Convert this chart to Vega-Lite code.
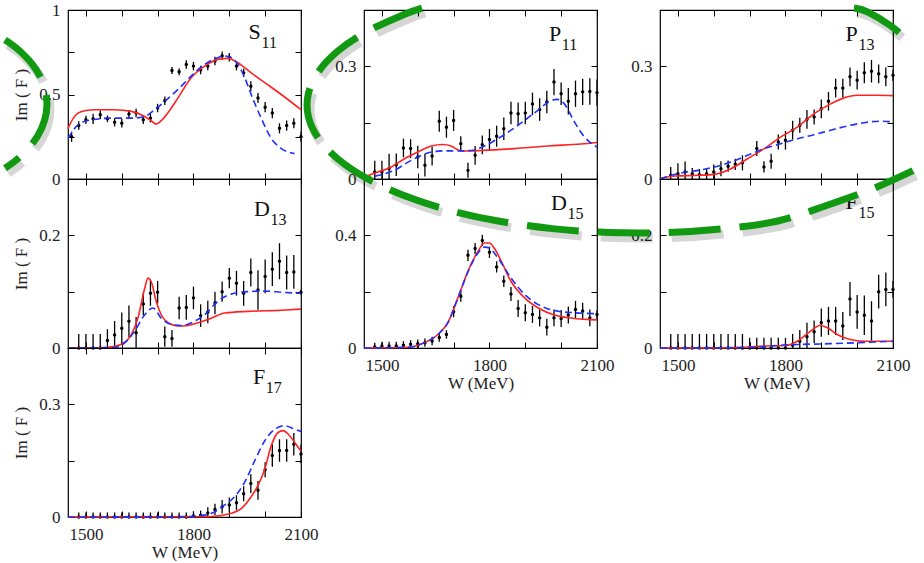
{
"$schema":"https://vega.github.io/schema/vega-lite/v6.json",
"padding":0,
"background":"white",
"bounds":"flush",
"columns":3,
"spacing":{"row":0,"column":63},
"config":{
 "view":{"stroke":"black","strokeWidth":1.2},
 "axis":{"domain":false,"grid":false,"tickColor":"black","tickSize":-6,"tickWidth":1,"labelFont":"Liberation Serif","labelFontSize":17,"labelColor":"#222","titleFont":"Liberation Serif","titleFontSize":17,"titleFontWeight":"normal","titleColor":"#222","labelFlush":false,"labelOverlap":false},
 "axisX":{"labelPadding":15,"titlePadding":2},
 "axisY":{"labelPadding":14,"titlePadding":8}
},
"datasets":{
"lab":[{"p":"S11","m":"S","s":"11"},{"p":"D13","m":"D","s":"13"},{"p":"F17","m":"F","s":"17"},{"p":"P11","m":"P","s":"11"},{"p":"D15","m":"D","s":"15"},{"p":"P13","m":"P","s":"13"},{"p":"F15","m":"F","s":"15"}],
"pts":[
{"p":"S11","W":1460,"v":0.25,"e":0.03},{"p":"S11","W":1480,"v":0.316,"e":0.025},{"p":"S11","W":1500,"v":0.35,"e":0.025},{"p":"S11","W":1520,"v":0.356,"e":0.03},{"p":"S11","W":1540,"v":0.38,"e":0.025},{"p":"S11","W":1560,"v":0.356,"e":0.02},{"p":"S11","W":1580,"v":0.336,"e":0.025},{"p":"S11","W":1600,"v":0.33,"e":0.025},{"p":"S11","W":1620,"v":0.384,"e":0.025},{"p":"S11","W":1640,"v":0.39,"e":0.025},{"p":"S11","W":1660,"v":0.35,"e":0.025},{"p":"S11","W":1680,"v":0.36,"e":0.025},{"p":"S11","W":1700,"v":0.42,"e":0.025},{"p":"S11","W":1720,"v":0.463,"e":0.025},{"p":"S11","W":1740,"v":0.642,"e":0.02},{"p":"S11","W":1760,"v":0.634,"e":0.02},{"p":"S11","W":1780,"v":0.678,"e":0.025},{"p":"S11","W":1800,"v":0.668,"e":0.025},{"p":"S11","W":1820,"v":0.645,"e":0.025},{"p":"S11","W":1840,"v":0.668,"e":0.025},{"p":"S11","W":1860,"v":0.698,"e":0.025},{"p":"S11","W":1880,"v":0.73,"e":0.025},{"p":"S11","W":1900,"v":0.72,"e":0.025},{"p":"S11","W":1920,"v":0.668,"e":0.025},{"p":"S11","W":1940,"v":0.628,"e":0.025},{"p":"S11","W":1960,"v":0.549,"e":0.03},{"p":"S11","W":1980,"v":0.479,"e":0.03},{"p":"S11","W":2000,"v":0.425,"e":0.03},{"p":"S11","W":2020,"v":0.39,"e":0.03},{"p":"S11","W":2040,"v":0.3,"e":0.03},{"p":"S11","W":2060,"v":0.316,"e":0.03},{"p":"S11","W":2080,"v":0.33,"e":0.03},{"p":"S11","W":2100,"v":0.25,"e":0.03},
{"p":"D13","W":1480,"v":0,"e":0.025},{"p":"D13","W":1500,"v":0,"e":0.025},{"p":"D13","W":1520,"v":0,"e":0.025},{"p":"D13","W":1540,"v":0,"e":0.025},{"p":"D13","W":1560,"v":0.0135,"e":0.02},{"p":"D13","W":1580,"v":0.023,"e":0.025},{"p":"D13","W":1600,"v":0.035,"e":0.028},{"p":"D13","W":1620,"v":0.0475,"e":0.028},{"p":"D13","W":1640,"v":0.027,"e":0.028},{"p":"D13","W":1660,"v":0.078,"e":0.02},{"p":"D13","W":1680,"v":0.097,"e":0.022},{"p":"D13","W":1700,"v":0.099,"e":0.02},{"p":"D13","W":1720,"v":0.02,"e":0.018},{"p":"D13","W":1740,"v":0.017,"e":0.015},{"p":"D13","W":1760,"v":0.071,"e":0.02},{"p":"D13","W":1780,"v":0.072,"e":0.022},{"p":"D13","W":1800,"v":0.089,"e":0.02},{"p":"D13","W":1820,"v":0.0575,"e":0.02},{"p":"D13","W":1840,"v":0.064,"e":0.02},{"p":"D13","W":1860,"v":0.08,"e":0.02},{"p":"D13","W":1880,"v":0.1,"e":0.018},{"p":"D13","W":1900,"v":0.124,"e":0.018},{"p":"D13","W":1920,"v":0.115,"e":0.022},{"p":"D13","W":1940,"v":0.097,"e":0.022},{"p":"D13","W":1960,"v":0.134,"e":0.025},{"p":"D13","W":1980,"v":0.103,"e":0.035},{"p":"D13","W":2000,"v":0.127,"e":0.03},{"p":"D13","W":2020,"v":0.14,"e":0.03},{"p":"D13","W":2040,"v":0.154,"e":0.032},{"p":"D13","W":2060,"v":0.134,"e":0.03},{"p":"D13","W":2080,"v":0.135,"e":0.03},{"p":"D13","W":2100,"v":0.099,"e":0.005},
{"p":"F17","W":1480,"v":0,"e":0.012},{"p":"F17","W":1500,"v":0,"e":0.012},{"p":"F17","W":1520,"v":0,"e":0.012},{"p":"F17","W":1540,"v":0,"e":0.012},{"p":"F17","W":1560,"v":0,"e":0.012},{"p":"F17","W":1580,"v":0,"e":0.012},{"p":"F17","W":1600,"v":0,"e":0.012},{"p":"F17","W":1620,"v":0,"e":0.012},{"p":"F17","W":1640,"v":0,"e":0.012},{"p":"F17","W":1660,"v":0,"e":0.012},{"p":"F17","W":1680,"v":0,"e":0.012},{"p":"F17","W":1700,"v":0,"e":0.012},{"p":"F17","W":1720,"v":0,"e":0.012},{"p":"F17","W":1740,"v":0,"e":0.012},{"p":"F17","W":1760,"v":0,"e":0.012},{"p":"F17","W":1780,"v":0,"e":0.012},{"p":"F17","W":1800,"v":0.003,"e":0.012},{"p":"F17","W":1820,"v":0.005,"e":0.012},{"p":"F17","W":1840,"v":0.011,"e":0.015},{"p":"F17","W":1860,"v":0.02,"e":0.015},{"p":"F17","W":1880,"v":0.027,"e":0.018},{"p":"F17","W":1900,"v":0.032,"e":0.02},{"p":"F17","W":1920,"v":0.038,"e":0.02},{"p":"F17","W":1940,"v":0.062,"e":0.02},{"p":"F17","W":1960,"v":0.089,"e":0.025},{"p":"F17","W":1980,"v":0.071,"e":0.025},{"p":"F17","W":2000,"v":0.126,"e":0.02},{"p":"F17","W":2020,"v":0.164,"e":0.03},{"p":"F17","W":2040,"v":0.177,"e":0.03},{"p":"F17","W":2060,"v":0.177,"e":0.03},{"p":"F17","W":2080,"v":0.194,"e":0.03},{"p":"F17","W":2100,"v":0.168,"e":0.025},
{"p":"P11","W":1480,"v":0.0186,"e":0.03},{"p":"P11","W":1500,"v":0.0186,"e":0.03},{"p":"P11","W":1520,"v":0.0275,"e":0.04},{"p":"P11","W":1540,"v":0.038,"e":0.03},{"p":"P11","W":1560,"v":0.0825,"e":0.025},{"p":"P11","W":1580,"v":0.081,"e":0.025},{"p":"P11","W":1600,"v":0.0586,"e":0.03},{"p":"P11","W":1620,"v":0.0364,"e":0.03},{"p":"P11","W":1640,"v":0.061,"e":0.025},{"p":"P11","W":1660,"v":0.154,"e":0.028},{"p":"P11","W":1680,"v":0.138,"e":0.028},{"p":"P11","W":1700,"v":0.156,"e":0.028},{"p":"P11","W":1720,"v":0.094,"e":0.02},{"p":"P11","W":1740,"v":0.023,"e":0.02},{"p":"P11","W":1760,"v":0.063,"e":0.025},{"p":"P11","W":1780,"v":0.091,"e":0.025},{"p":"P11","W":1800,"v":0.105,"e":0.028},{"p":"P11","W":1820,"v":0.114,"e":0.028},{"p":"P11","W":1840,"v":0.134,"e":0.03},{"p":"P11","W":1860,"v":0.176,"e":0.03},{"p":"P11","W":1880,"v":0.174,"e":0.03},{"p":"P11","W":1900,"v":0.176,"e":0.03},{"p":"P11","W":1920,"v":0.2,"e":0.03},{"p":"P11","W":1940,"v":0.185,"e":0.03},{"p":"P11","W":1960,"v":0.205,"e":0.03},{"p":"P11","W":1980,"v":0.258,"e":0.035},{"p":"P11","W":2000,"v":0.227,"e":0.03},{"p":"P11","W":2020,"v":0.207,"e":0.035},{"p":"P11","W":2040,"v":0.227,"e":0.035},{"p":"P11","W":2060,"v":0.232,"e":0.035},{"p":"P11","W":2080,"v":0.233,"e":0.035},{"p":"P11","W":2100,"v":0.23,"e":0.035},
{"p":"D15","W":1480,"v":0.0035,"e":0.015},{"p":"D15","W":1500,"v":0.007,"e":0.015},{"p":"D15","W":1520,"v":0.007,"e":0.015},{"p":"D15","W":1540,"v":0.007,"e":0.015},{"p":"D15","W":1560,"v":0.0094,"e":0.015},{"p":"D15","W":1580,"v":0.013,"e":0.015},{"p":"D15","W":1600,"v":0.015,"e":0.015},{"p":"D15","W":1620,"v":0.019,"e":0.015},{"p":"D15","W":1640,"v":0.025,"e":0.015},{"p":"D15","W":1660,"v":0.037,"e":0.015},{"p":"D15","W":1680,"v":0.048,"e":0.015},{"p":"D15","W":1700,"v":0.129,"e":0.02},{"p":"D15","W":1720,"v":0.184,"e":0.02},{"p":"D15","W":1740,"v":0.329,"e":0.02},{"p":"D15","W":1760,"v":0.353,"e":0.02},{"p":"D15","W":1780,"v":0.382,"e":0.02},{"p":"D15","W":1800,"v":0.34,"e":0.02},{"p":"D15","W":1820,"v":0.288,"e":0.02},{"p":"D15","W":1840,"v":0.237,"e":0.02},{"p":"D15","W":1860,"v":0.192,"e":0.025},{"p":"D15","W":1880,"v":0.14,"e":0.03},{"p":"D15","W":1900,"v":0.125,"e":0.03},{"p":"D15","W":1920,"v":0.119,"e":0.03},{"p":"D15","W":1940,"v":0.107,"e":0.03},{"p":"D15","W":1960,"v":0.074,"e":0.03},{"p":"D15","W":1980,"v":0.107,"e":0.03},{"p":"D15","W":2000,"v":0.105,"e":0.03},{"p":"D15","W":2020,"v":0.117,"e":0.03},{"p":"D15","W":2040,"v":0.137,"e":0.03},{"p":"D15","W":2060,"v":0.131,"e":0.03},{"p":"D15","W":2080,"v":0.107,"e":0.03},{"p":"D15","W":2100,"v":0.119,"e":0.015},
{"p":"P13","W":1480,"v":0.0098,"e":0.022},{"p":"P13","W":1500,"v":0.014,"e":0.028},{"p":"P13","W":1520,"v":0.0186,"e":0.028},{"p":"P13","W":1540,"v":0.014,"e":0.015},{"p":"P13","W":1560,"v":0.0115,"e":0.015},{"p":"P13","W":1580,"v":0.014,"e":0.015},{"p":"P13","W":1600,"v":0.0186,"e":0.02},{"p":"P13","W":1620,"v":0.0275,"e":0.02},{"p":"P13","W":1640,"v":0.034,"e":0.015},{"p":"P13","W":1660,"v":0.039,"e":0.015},{"p":"P13","W":1680,"v":0.043,"e":0.02},{"p":"P13","W":1720,"v":0.081,"e":0.02},{"p":"P13","W":1740,"v":0.032,"e":0.015},{"p":"P13","W":1760,"v":0.047,"e":0.02},{"p":"P13","W":1780,"v":0.0985,"e":0.02},{"p":"P13","W":1800,"v":0.103,"e":0.025},{"p":"P13","W":1820,"v":0.13,"e":0.025},{"p":"P13","W":1840,"v":0.143,"e":0.02},{"p":"P13","W":1860,"v":0.159,"e":0.025},{"p":"P13","W":1880,"v":0.165,"e":0.02},{"p":"P13","W":1900,"v":0.187,"e":0.025},{"p":"P13","W":1920,"v":0.207,"e":0.025},{"p":"P13","W":1940,"v":0.242,"e":0.025},{"p":"P13","W":1960,"v":0.242,"e":0.025},{"p":"P13","W":1980,"v":0.272,"e":0.025},{"p":"P13","W":2000,"v":0.263,"e":0.025},{"p":"P13","W":2020,"v":0.283,"e":0.028},{"p":"P13","W":2040,"v":0.287,"e":0.03},{"p":"P13","W":2060,"v":0.28,"e":0.025},{"p":"P13","W":2080,"v":0.272,"e":0.025},{"p":"P13","W":2100,"v":0.276,"e":0.015},
{"p":"F15","W":1480,"v":0,"e":0.025},{"p":"F15","W":1500,"v":0,"e":0.025},{"p":"F15","W":1520,"v":0,"e":0.025},{"p":"F15","W":1540,"v":0,"e":0.025},{"p":"F15","W":1560,"v":0,"e":0.025},{"p":"F15","W":1580,"v":0,"e":0.025},{"p":"F15","W":1600,"v":0,"e":0.025},{"p":"F15","W":1620,"v":0,"e":0.025},{"p":"F15","W":1640,"v":0,"e":0.025},{"p":"F15","W":1660,"v":0,"e":0.025},{"p":"F15","W":1680,"v":0,"e":0.025},{"p":"F15","W":1700,"v":0,"e":0.018},{"p":"F15","W":1720,"v":0,"e":0.018},{"p":"F15","W":1740,"v":0,"e":0.018},{"p":"F15","W":1760,"v":0,"e":0.018},{"p":"F15","W":1780,"v":0,"e":0.018},{"p":"F15","W":1800,"v":0,"e":0.018},{"p":"F15","W":1820,"v":0.005,"e":0.02},{"p":"F15","W":1840,"v":0.012,"e":0.02},{"p":"F15","W":1860,"v":0.02,"e":0.025},{"p":"F15","W":1880,"v":0.029,"e":0.02},{"p":"F15","W":1900,"v":0.045,"e":0.025},{"p":"F15","W":1920,"v":0.048,"e":0.025},{"p":"F15","W":1940,"v":0.048,"e":0.025},{"p":"F15","W":1960,"v":0.039,"e":0.025},{"p":"F15","W":1980,"v":0.087,"e":0.03},{"p":"F15","W":2000,"v":0.064,"e":0.03},{"p":"F15","W":2020,"v":0.058,"e":0.035},{"p":"F15","W":2040,"v":0.048,"e":0.035},{"p":"F15","W":2060,"v":0.1,"e":0.03},{"p":"F15","W":2080,"v":0.104,"e":0.03},{"p":"F15","W":2100,"v":0.104,"e":0.015}
],
"cur":[
{"p":"S11","s":"A","W":1450,"v":0.30},{"p":"S11","s":"A","W":1465,"v":0.36},{"p":"S11","s":"A","W":1478,"v":0.39},{"p":"S11","s":"A","W":1500,"v":0.405},{"p":"S11","s":"A","W":1524,"v":0.41},{"p":"S11","s":"A","W":1580,"v":0.41},{"p":"S11","s":"A","W":1627,"v":0.40},{"p":"S11","s":"A","W":1664,"v":0.37},{"p":"S11","s":"A","W":1682,"v":0.345},{"p":"S11","s":"A","W":1696,"v":0.325},{"p":"S11","s":"A","W":1710,"v":0.345},{"p":"S11","s":"A","W":1735,"v":0.41},{"p":"S11","s":"A","W":1757,"v":0.48},{"p":"S11","s":"A","W":1794,"v":0.60},{"p":"S11","s":"A","W":1831,"v":0.668},{"p":"S11","s":"A","W":1868,"v":0.708},{"p":"S11","s":"A","W":1896,"v":0.714},{"p":"S11","s":"A","W":1924,"v":0.688},{"p":"S11","s":"A","W":1961,"v":0.628},{"p":"S11","s":"A","W":1999,"v":0.57},{"p":"S11","s":"A","W":2045,"v":0.50},{"p":"S11","s":"A","W":2100,"v":0.41},
{"p":"S11","s":"B","W":1450,"v":0.24},{"p":"S11","s":"B","W":1478,"v":0.32},{"p":"S11","s":"B","W":1515,"v":0.35},{"p":"S11","s":"B","W":1571,"v":0.36},{"p":"S11","s":"B","W":1627,"v":0.36},{"p":"S11","s":"B","W":1664,"v":0.37},{"p":"S11","s":"B","W":1692,"v":0.41},{"p":"S11","s":"B","W":1720,"v":0.46},{"p":"S11","s":"B","W":1757,"v":0.53},{"p":"S11","s":"B","W":1794,"v":0.61},{"p":"S11","s":"B","W":1831,"v":0.678},{"p":"S11","s":"B","W":1868,"v":0.718},{"p":"S11","s":"B","W":1887,"v":0.728},{"p":"S11","s":"B","W":1906,"v":0.718},{"p":"S11","s":"B","W":1924,"v":0.678},{"p":"S11","s":"B","W":1943,"v":0.60},{"p":"S11","s":"B","W":1961,"v":0.50},{"p":"S11","s":"B","W":1989,"v":0.36},{"p":"S11","s":"B","W":2017,"v":0.24},{"p":"S11","s":"B","W":2045,"v":0.18},{"p":"S11","s":"B","W":2082,"v":0.15},
{"p":"D13","s":"A","W":1450,"v":0},{"p":"D13","s":"A","W":1555,"v":0.001},{"p":"D13","s":"A","W":1571,"v":0.002},{"p":"D13","s":"A","W":1599,"v":0.0065},{"p":"D13","s":"A","W":1627,"v":0.024},{"p":"D13","s":"A","W":1645,"v":0.053},{"p":"D13","s":"A","W":1664,"v":0.106},{"p":"D13","s":"A","W":1673,"v":0.124},{"p":"D13","s":"A","W":1682,"v":0.118},{"p":"D13","s":"A","W":1696,"v":0.083},{"p":"D13","s":"A","W":1710,"v":0.059},{"p":"D13","s":"A","W":1729,"v":0.045},{"p":"D13","s":"A","W":1757,"v":0.039},{"p":"D13","s":"A","W":1785,"v":0.04},{"p":"D13","s":"A","W":1813,"v":0.045},{"p":"D13","s":"A","W":1850,"v":0.053},{"p":"D13","s":"A","W":1887,"v":0.062},{"p":"D13","s":"A","W":1952,"v":0.065},{"p":"D13","s":"A","W":2045,"v":0.067},{"p":"D13","s":"A","W":2100,"v":0.069},
{"p":"D13","s":"B","W":1450,"v":0},{"p":"D13","s":"B","W":1580,"v":0.001},{"p":"D13","s":"B","W":1608,"v":0.009},{"p":"D13","s":"B","W":1636,"v":0.03},{"p":"D13","s":"B","W":1664,"v":0.059},{"p":"D13","s":"B","W":1687,"v":0.071},{"p":"D13","s":"B","W":1710,"v":0.053},{"p":"D13","s":"B","W":1738,"v":0.042},{"p":"D13","s":"B","W":1766,"v":0.04},{"p":"D13","s":"B","W":1803,"v":0.0475},{"p":"D13","s":"B","W":1831,"v":0.059},{"p":"D13","s":"B","W":1868,"v":0.083},{"p":"D13","s":"B","W":1906,"v":0.096},{"p":"D13","s":"B","W":1952,"v":0.1},{"p":"D13","s":"B","W":1999,"v":0.101},{"p":"D13","s":"B","W":2045,"v":0.099},{"p":"D13","s":"B","W":2100,"v":0.097},
{"p":"F17","s":"A","W":1450,"v":0},{"p":"F17","s":"A","W":1830,"v":0.0005},{"p":"F17","s":"A","W":1859,"v":0.002},{"p":"F17","s":"A","W":1906,"v":0.0097},{"p":"F17","s":"A","W":1934,"v":0.023},{"p":"F17","s":"A","W":1961,"v":0.054},{"p":"F17","s":"A","W":1980,"v":0.084},{"p":"F17","s":"A","W":1999,"v":0.128},{"p":"F17","s":"A","W":2017,"v":0.19},{"p":"F17","s":"A","W":2036,"v":0.225},{"p":"F17","s":"A","W":2050,"v":0.23},{"p":"F17","s":"A","W":2064,"v":0.221},{"p":"F17","s":"A","W":2082,"v":0.199},{"p":"F17","s":"A","W":2100,"v":0.175},
{"p":"F17","s":"B","W":1450,"v":0},{"p":"F17","s":"B","W":1790,"v":0.001},{"p":"F17","s":"B","W":1813,"v":0.003},{"p":"F17","s":"B","W":1850,"v":0.0097},{"p":"F17","s":"B","W":1887,"v":0.032},{"p":"F17","s":"B","W":1915,"v":0.054},{"p":"F17","s":"B","W":1943,"v":0.093},{"p":"F17","s":"B","W":1971,"v":0.15},{"p":"F17","s":"B","W":1999,"v":0.203},{"p":"F17","s":"B","W":2027,"v":0.234},{"p":"F17","s":"B","W":2055,"v":0.243},{"p":"F17","s":"B","W":2082,"v":0.234},{"p":"F17","s":"B","W":2100,"v":0.228},
{"p":"P11","s":"A","W":1450,"v":0.0053},{"p":"P11","s":"A","W":1489,"v":0.0186},{"p":"P11","s":"A","W":1526,"v":0.032},{"p":"P11","s":"A","W":1563,"v":0.054},{"p":"P11","s":"A","W":1600,"v":0.072},{"p":"P11","s":"A","W":1638,"v":0.088},{"p":"P11","s":"A","W":1670,"v":0.092},{"p":"P11","s":"A","W":1693,"v":0.088},{"p":"P11","s":"A","W":1716,"v":0.076},{"p":"P11","s":"A","W":1730,"v":0.0746},{"p":"P11","s":"A","W":1777,"v":0.076},{"p":"P11","s":"A","W":1870,"v":0.081},{"p":"P11","s":"A","W":1962,"v":0.088},{"p":"P11","s":"A","W":2055,"v":0.093},{"p":"P11","s":"A","W":2100,"v":0.097},
{"p":"P11","s":"B","W":1450,"v":0.0027},{"p":"P11","s":"B","W":1498,"v":0.0115},{"p":"P11","s":"B","W":1535,"v":0.023},{"p":"P11","s":"B","W":1573,"v":0.045},{"p":"P11","s":"B","W":1600,"v":0.0586},{"p":"P11","s":"B","W":1638,"v":0.072},{"p":"P11","s":"B","W":1675,"v":0.075},{"p":"P11","s":"B","W":1712,"v":0.0746},{"p":"P11","s":"B","W":1749,"v":0.076},{"p":"P11","s":"B","W":1786,"v":0.088},{"p":"P11","s":"B","W":1823,"v":0.107},{"p":"P11","s":"B","W":1860,"v":0.13},{"p":"P11","s":"B","W":1898,"v":0.156},{"p":"P11","s":"B","W":1935,"v":0.183},{"p":"P11","s":"B","W":1972,"v":0.209},{"p":"P11","s":"B","W":1990,"v":0.212},{"p":"P11","s":"B","W":2009,"v":0.2},{"p":"P11","s":"B","W":2037,"v":0.152},{"p":"P11","s":"B","W":2065,"v":0.112},{"p":"P11","s":"B","W":2100,"v":0.085},
{"p":"D15","s":"A","W":1450,"v":0},{"p":"D15","s":"A","W":1573,"v":0.0024},{"p":"D15","s":"A","W":1619,"v":0.019},{"p":"D15","s":"A","W":1656,"v":0.048},{"p":"D15","s":"A","W":1684,"v":0.09},{"p":"D15","s":"A","W":1712,"v":0.178},{"p":"D15","s":"A","W":1740,"v":0.273},{"p":"D15","s":"A","W":1768,"v":0.343},{"p":"D15","s":"A","W":1786,"v":0.373},{"p":"D15","s":"A","W":1800,"v":0.373},{"p":"D15","s":"A","W":1814,"v":0.353},{"p":"D15","s":"A","W":1833,"v":0.308},{"p":"D15","s":"A","W":1860,"v":0.237},{"p":"D15","s":"A","W":1898,"v":0.178},{"p":"D15","s":"A","W":1935,"v":0.143},{"p":"D15","s":"A","W":1981,"v":0.117},{"p":"D15","s":"A","W":2037,"v":0.105},{"p":"D15","s":"A","W":2100,"v":0.1},
{"p":"D15","s":"B","W":1450,"v":0},{"p":"D15","s":"B","W":1573,"v":0.0024},{"p":"D15","s":"B","W":1619,"v":0.019},{"p":"D15","s":"B","W":1656,"v":0.048},{"p":"D15","s":"B","W":1684,"v":0.09},{"p":"D15","s":"B","W":1712,"v":0.178},{"p":"D15","s":"B","W":1740,"v":0.27},{"p":"D15","s":"B","W":1768,"v":0.337},{"p":"D15","s":"B","W":1786,"v":0.358},{"p":"D15","s":"B","W":1800,"v":0.355},{"p":"D15","s":"B","W":1820,"v":0.326},{"p":"D15","s":"B","W":1860,"v":0.249},{"p":"D15","s":"B","W":1898,"v":0.19},{"p":"D15","s":"B","W":1935,"v":0.155},{"p":"D15","s":"B","W":1981,"v":0.133},{"p":"D15","s":"B","W":2037,"v":0.125},{"p":"D15","s":"B","W":2100,"v":0.122},
{"p":"P13","s":"A","W":1450,"v":0.0009},{"p":"P13","s":"A","W":1491,"v":0.008},{"p":"P13","s":"A","W":1556,"v":0.0098},{"p":"P13","s":"A","W":1602,"v":0.0124},{"p":"P13","s":"A","W":1648,"v":0.0275},{"p":"P13","s":"A","W":1694,"v":0.054},{"p":"P13","s":"A","W":1741,"v":0.081},{"p":"P13","s":"A","W":1787,"v":0.112},{"p":"P13","s":"A","W":1833,"v":0.138},{"p":"P13","s":"A","W":1880,"v":0.174},{"p":"P13","s":"A","W":1926,"v":0.2},{"p":"P13","s":"A","W":1963,"v":0.216},{"p":"P13","s":"A","W":2000,"v":0.223},{"p":"P13","s":"A","W":2056,"v":0.223},{"p":"P13","s":"A","W":2100,"v":0.222},
{"p":"P13","s":"B","W":1450,"v":0.0009},{"p":"P13","s":"B","W":1509,"v":0.016},{"p":"P13","s":"B","W":1556,"v":0.023},{"p":"P13","s":"B","W":1602,"v":0.032},{"p":"P13","s":"B","W":1648,"v":0.045},{"p":"P13","s":"B","W":1694,"v":0.063},{"p":"P13","s":"B","W":1741,"v":0.081},{"p":"P13","s":"B","W":1787,"v":0.094},{"p":"P13","s":"B","W":1833,"v":0.107},{"p":"P13","s":"B","W":1880,"v":0.118},{"p":"P13","s":"B","W":1926,"v":0.13},{"p":"P13","s":"B","W":1972,"v":0.141},{"p":"P13","s":"B","W":2019,"v":0.15},{"p":"P13","s":"B","W":2065,"v":0.154},{"p":"P13","s":"B","W":2100,"v":0.152},
{"p":"F15","s":"A","W":1450,"v":0},{"p":"F15","s":"A","W":1648,"v":0.0005},{"p":"F15","s":"A","W":1741,"v":0.0035},{"p":"F15","s":"A","W":1806,"v":0.005},{"p":"F15","s":"A","W":1833,"v":0.012},{"p":"F15","s":"A","W":1870,"v":0.03},{"p":"F15","s":"A","W":1896,"v":0.04},{"p":"F15","s":"A","W":1917,"v":0.036},{"p":"F15","s":"A","W":1944,"v":0.024},{"p":"F15","s":"A","W":1981,"v":0.015},{"p":"F15","s":"A","W":2019,"v":0.012},{"p":"F15","s":"A","W":2100,"v":0.012},
{"p":"F15","s":"B","W":1450,"v":0},{"p":"F15","s":"B","W":1700,"v":0.001},{"p":"F15","s":"B","W":1796,"v":0.0053},{"p":"F15","s":"B","W":1926,"v":0.0077},{"p":"F15","s":"B","W":2100,"v":0.012}
],
"ell":[
{"g":"a","i":1,"ex":786,"ey":0.6035},{"g":"a","i":2,"ex":735.8,"ey":0.592},{"g":"a","i":3,"ex":632.1,"ey":0.5617},{"g":"a","i":4,"ex":551.7,"ey":0.5274},{"g":"a","i":5,"ex":496.8,"ey":0.4901},{"g":"a","i":6,"ex":468.9,"ey":0.4512},{"g":"a","i":7,"ex":468.9,"ey":0.4115},{"g":"a","i":8,"ex":496.8,"ey":0.3726},{"g":"a","i":9,"ex":551.7,"ey":0.3353},{"g":"a","i":10,"ex":632.1,"ey":0.3011},{"g":"a","i":11,"ex":735.8,"ey":0.2707},{"g":"a","i":12,"ex":858.9,"ey":0.2451},{"g":"a","i":13,"ex":998.3,"ey":0.2254},{"g":"a","i":14,"ex":1149.5,"ey":0.2119},{"g":"a","i":15,"ex":1308,"ey":0.205},{"g":"a","i":16,"ex":1469.2,"ey":0.205},{"g":"a","i":17,"ex":1627.7,"ey":0.2119},{"g":"a","i":18,"ex":1778.9,"ey":0.2254},{"g":"a","i":19,"ex":1918.4,"ey":0.2538},{"g":"a","i":20,"ex":2041.4,"ey":0.2822},{"g":"a","i":21,"ex":2155.8,"ey":0.3149},
{"g":"b","i":1,"ex":1991.2,"ey":0.6035},{"g":"b","i":2,"ex":2030.3,"ey":0.5964},{"g":"b","i":3,"ex":2094.4,"ey":0.5716},{"g":"b","i":4,"ex":2155.8,"ey":0.5379},
{"g":"c","i":1,"ex":-377.3,"ey":0.5471},{"g":"c","i":2,"ex":-340.7,"ey":0.5299},{"g":"c","i":3,"ex":-301.9,"ey":0.5043},{"g":"c","i":4,"ex":-275.4,"ey":0.4768},{"g":"c","i":5,"ex":-261.8,"ey":0.4479},{"g":"c","i":6,"ex":-261.8,"ey":0.4184},{"g":"c","i":7,"ex":-275.4,"ey":0.3895},{"g":"c","i":8,"ex":-301.9,"ey":0.3619},{"g":"c","i":9,"ex":-340.7,"ey":0.3364},{"g":"c","i":10,"ex":-377.3,"ey":0.3192}
]
},
"concat":[
 {"width":233,"height":169,"resolve":{"axis":{"x":"independent","y":"independent"}},"layer":[
  {"data":{"name":"pts"},"transform":[{"filter":"datum.p=='S11'"}],"mark":{"type":"errorbar","ticks":false,"clip":true,"color":"black","thickness":1.3},"encoding":{"x":{"field":"W","type":"quantitative","scale":{"domain":[1450,2100],"nice":false,"zero":false},"axis":null},"y":{"field":"v","type":"quantitative","scale":{"domain":[0,1],"nice":false},"axis":null},"yError":{"field":"e"}}},
  {"data":{"name":"pts"},"transform":[{"filter":"datum.p=='S11'"}],"mark":{"type":"point","filled":true,"size":12,"color":"black","opacity":1},"encoding":{"x":{"field":"W","type":"quantitative","scale":{"domain":[1450,2100],"nice":false,"zero":false},"axis":{"orient":"bottom","values":[1500,1600,1700,1800,1900,2000,2100],"labels":false,"title":null}},"y":{"field":"v","type":"quantitative","scale":{"domain":[0,1],"nice":false},"axis":{"orient":"left","values":[0,0.25,0.5,0.75,1],"format":"~g","labelExpr":"indexof([0,0.5,1],datum.value)>=0?datum.label:''","title":"Im ( F )"}}}},
  {"data":{"name":"cur"},"transform":[{"filter":"datum.p=='S11'&&datum.s=='A'"}],"mark":{"type":"line","color":"#ff2222","strokeWidth":1.6,"interpolate":"monotone"},"encoding":{"x":{"field":"W","type":"quantitative","scale":{"domain":[1450,2100],"nice":false,"zero":false},"axis":{"orient":"top","values":[1500,1600,1700,1800,1900,2000,2100],"labels":false,"title":null}},"y":{"field":"v","type":"quantitative","scale":{"domain":[0,1],"nice":false},"axis":{"orient":"right","values":[0,0.25,0.5,0.75,1],"labels":false,"title":null}}}},
  {"data":{"name":"cur"},"transform":[{"filter":"datum.p=='S11'&&datum.s=='B'"}],"mark":{"type":"line","color":"#2030ff","strokeWidth":1.6,"strokeDash":[7,4],"interpolate":"monotone"},"encoding":{"x":{"field":"W","type":"quantitative","scale":{"domain":[1450,2100],"nice":false,"zero":false},"axis":null},"y":{"field":"v","type":"quantitative","scale":{"domain":[0,1],"nice":false},"axis":null}}},
  {"data":{"name":"lab"},"transform":[{"filter":"datum.p=='S11'"}],"mark":{"type":"text","align":"right","baseline":"alphabetic","font":"Liberation Serif","fontSize":22,"color":"#111"},"encoding":{"text":{"field":"m"},"x":{"datum":1988,"type":"quantitative","scale":{"domain":[1450,2100],"nice":false,"zero":false},"axis":null},"y":{"datum":0.828,"type":"quantitative","scale":{"domain":[0,1],"nice":false},"axis":null}}},
  {"data":{"name":"lab"},"transform":[{"filter":"datum.p=='S11'"}],"mark":{"type":"text","align":"left","baseline":"alphabetic","font":"Liberation Serif","fontSize":16,"color":"#111"},"encoding":{"text":{"field":"s"},"x":{"datum":1990,"type":"quantitative","scale":{"domain":[1450,2100],"nice":false,"zero":false},"axis":null},"y":{"datum":0.775,"type":"quantitative","scale":{"domain":[0,1],"nice":false},"axis":null}}}
 ]},
 {"width":233,"height":169,"resolve":{"axis":{"x":"independent","y":"independent"}},"layer":[
  {"data":{"name":"pts"},"transform":[{"filter":"datum.p=='P11'"}],"mark":{"type":"errorbar","ticks":false,"clip":true,"color":"black","thickness":1.3},"encoding":{"x":{"field":"W","type":"quantitative","scale":{"domain":[1450,2100],"nice":false,"zero":false},"axis":null},"y":{"field":"v","type":"quantitative","scale":{"domain":[0,0.45],"nice":false},"axis":null},"yError":{"field":"e"}}},
  {"data":{"name":"pts"},"transform":[{"filter":"datum.p=='P11'"}],"mark":{"type":"point","filled":true,"size":12,"color":"black","opacity":1},"encoding":{"x":{"field":"W","type":"quantitative","scale":{"domain":[1450,2100],"nice":false,"zero":false},"axis":{"orient":"bottom","values":[1500,1600,1700,1800,1900,2000,2100],"labels":false,"title":null}},"y":{"field":"v","type":"quantitative","scale":{"domain":[0,0.45],"nice":false},"axis":{"orient":"left","values":[0,0.15,0.3,0.45],"format":"~g","labelExpr":"indexof([0,0.3],datum.value)>=0?datum.label:''","title":null}}}},
  {"data":{"name":"cur"},"transform":[{"filter":"datum.p=='P11'&&datum.s=='A'"}],"mark":{"type":"line","color":"#ff2222","strokeWidth":1.6,"interpolate":"monotone"},"encoding":{"x":{"field":"W","type":"quantitative","scale":{"domain":[1450,2100],"nice":false,"zero":false},"axis":{"orient":"top","values":[1500,1600,1700,1800,1900,2000,2100],"labels":false,"title":null}},"y":{"field":"v","type":"quantitative","scale":{"domain":[0,0.45],"nice":false},"axis":{"orient":"right","values":[0,0.15,0.3,0.45],"labels":false,"title":null}}}},
  {"data":{"name":"cur"},"transform":[{"filter":"datum.p=='P11'&&datum.s=='B'"}],"mark":{"type":"line","color":"#2030ff","strokeWidth":1.6,"strokeDash":[7,4],"interpolate":"monotone"},"encoding":{"x":{"field":"W","type":"quantitative","scale":{"domain":[1450,2100],"nice":false,"zero":false},"axis":null},"y":{"field":"v","type":"quantitative","scale":{"domain":[0,0.45],"nice":false},"axis":null}}},
  {"data":{"name":"lab"},"transform":[{"filter":"datum.p=='P11'"}],"mark":{"type":"text","align":"right","baseline":"alphabetic","font":"Liberation Serif","fontSize":22,"color":"#111"},"encoding":{"text":{"field":"m"},"x":{"datum":2000,"type":"quantitative","scale":{"domain":[1450,2100],"nice":false,"zero":false},"axis":null},"y":{"datum":0.3675,"type":"quantitative","scale":{"domain":[0,0.45],"nice":false},"axis":null}}},
  {"data":{"name":"lab"},"transform":[{"filter":"datum.p=='P11'"}],"mark":{"type":"text","align":"left","baseline":"alphabetic","font":"Liberation Serif","fontSize":16,"color":"#111"},"encoding":{"text":{"field":"s"},"x":{"datum":2002,"type":"quantitative","scale":{"domain":[1450,2100],"nice":false,"zero":false},"axis":null},"y":{"datum":0.3435,"type":"quantitative","scale":{"domain":[0,0.45],"nice":false},"axis":null}}}
 ]},
 {"width":233,"height":169,"resolve":{"axis":{"x":"independent","y":"independent"}},"layer":[
  {"data":{"name":"pts"},"transform":[{"filter":"datum.p=='P13'"}],"mark":{"type":"errorbar","ticks":false,"clip":true,"color":"black","thickness":1.3},"encoding":{"x":{"field":"W","type":"quantitative","scale":{"domain":[1450,2100],"nice":false,"zero":false},"axis":null},"y":{"field":"v","type":"quantitative","scale":{"domain":[0,0.45],"nice":false},"axis":null},"yError":{"field":"e"}}},
  {"data":{"name":"pts"},"transform":[{"filter":"datum.p=='P13'"}],"mark":{"type":"point","filled":true,"size":12,"color":"black","opacity":1},"encoding":{"x":{"field":"W","type":"quantitative","scale":{"domain":[1450,2100],"nice":false,"zero":false},"axis":{"orient":"bottom","values":[1500,1600,1700,1800,1900,2000,2100],"labels":false,"title":null}},"y":{"field":"v","type":"quantitative","scale":{"domain":[0,0.45],"nice":false},"axis":{"orient":"left","values":[0,0.15,0.3,0.45],"format":"~g","labelExpr":"indexof([0,0.3],datum.value)>=0?datum.label:''","title":null}}}},
  {"data":{"name":"cur"},"transform":[{"filter":"datum.p=='P13'&&datum.s=='A'"}],"mark":{"type":"line","color":"#ff2222","strokeWidth":1.6,"interpolate":"monotone"},"encoding":{"x":{"field":"W","type":"quantitative","scale":{"domain":[1450,2100],"nice":false,"zero":false},"axis":{"orient":"top","values":[1500,1600,1700,1800,1900,2000,2100],"labels":false,"title":null}},"y":{"field":"v","type":"quantitative","scale":{"domain":[0,0.45],"nice":false},"axis":{"orient":"right","values":[0,0.15,0.3,0.45],"labels":false,"title":null}}}},
  {"data":{"name":"cur"},"transform":[{"filter":"datum.p=='P13'&&datum.s=='B'"}],"mark":{"type":"line","color":"#2030ff","strokeWidth":1.6,"strokeDash":[7,4],"interpolate":"monotone"},"encoding":{"x":{"field":"W","type":"quantitative","scale":{"domain":[1450,2100],"nice":false,"zero":false},"axis":null},"y":{"field":"v","type":"quantitative","scale":{"domain":[0,0.45],"nice":false},"axis":null}}},
  {"data":{"name":"lab"},"transform":[{"filter":"datum.p=='P13'"}],"mark":{"type":"text","align":"right","baseline":"alphabetic","font":"Liberation Serif","fontSize":22,"color":"#111"},"encoding":{"text":{"field":"m"},"x":{"datum":2002,"type":"quantitative","scale":{"domain":[1450,2100],"nice":false,"zero":false},"axis":null},"y":{"datum":0.3675,"type":"quantitative","scale":{"domain":[0,0.45],"nice":false},"axis":null}}},
  {"data":{"name":"lab"},"transform":[{"filter":"datum.p=='P13'"}],"mark":{"type":"text","align":"left","baseline":"alphabetic","font":"Liberation Serif","fontSize":16,"color":"#111"},"encoding":{"text":{"field":"s"},"x":{"datum":2004,"type":"quantitative","scale":{"domain":[1450,2100],"nice":false,"zero":false},"axis":null},"y":{"datum":0.3435,"type":"quantitative","scale":{"domain":[0,0.45],"nice":false},"axis":null}}}
 ]},
 {"width":233,"height":169,"resolve":{"axis":{"x":"independent","y":"independent"}},"layer":[
  {"data":{"name":"pts"},"transform":[{"filter":"datum.p=='D13'"}],"mark":{"type":"errorbar","ticks":false,"clip":true,"color":"black","thickness":1.3},"encoding":{"x":{"field":"W","type":"quantitative","scale":{"domain":[1450,2100],"nice":false,"zero":false},"axis":null},"y":{"field":"v","type":"quantitative","scale":{"domain":[0,0.3],"nice":false},"axis":null},"yError":{"field":"e"}}},
  {"data":{"name":"pts"},"transform":[{"filter":"datum.p=='D13'"}],"mark":{"type":"point","filled":true,"size":12,"color":"black","opacity":1},"encoding":{"x":{"field":"W","type":"quantitative","scale":{"domain":[1450,2100],"nice":false,"zero":false},"axis":{"orient":"bottom","values":[1500,1600,1700,1800,1900,2000,2100],"labels":false,"title":null}},"y":{"field":"v","type":"quantitative","scale":{"domain":[0,0.3],"nice":false},"axis":{"orient":"left","values":[0,0.1,0.2,0.3],"format":"~g","labelExpr":"indexof([0,0.2],datum.value)>=0?datum.label:''","title":"Im ( F )"}}}},
  {"data":{"name":"cur"},"transform":[{"filter":"datum.p=='D13'&&datum.s=='A'"}],"mark":{"type":"line","color":"#ff2222","strokeWidth":1.6,"interpolate":"monotone"},"encoding":{"x":{"field":"W","type":"quantitative","scale":{"domain":[1450,2100],"nice":false,"zero":false},"axis":{"orient":"top","values":[1500,1600,1700,1800,1900,2000,2100],"labels":false,"title":null}},"y":{"field":"v","type":"quantitative","scale":{"domain":[0,0.3],"nice":false},"axis":{"orient":"right","values":[0,0.1,0.2,0.3],"labels":false,"title":null}}}},
  {"data":{"name":"cur"},"transform":[{"filter":"datum.p=='D13'&&datum.s=='B'"}],"mark":{"type":"line","color":"#2030ff","strokeWidth":1.6,"strokeDash":[7,4],"interpolate":"monotone"},"encoding":{"x":{"field":"W","type":"quantitative","scale":{"domain":[1450,2100],"nice":false,"zero":false},"axis":null},"y":{"field":"v","type":"quantitative","scale":{"domain":[0,0.3],"nice":false},"axis":null}}},
  {"data":{"name":"lab"},"transform":[{"filter":"datum.p=='D13'"}],"mark":{"type":"text","align":"right","baseline":"alphabetic","font":"Liberation Serif","fontSize":22,"color":"#111"},"encoding":{"text":{"field":"m"},"x":{"datum":2013,"type":"quantitative","scale":{"domain":[1450,2100],"nice":false,"zero":false},"axis":null},"y":{"datum":0.2343,"type":"quantitative","scale":{"domain":[0,0.3],"nice":false},"axis":null}}},
  {"data":{"name":"lab"},"transform":[{"filter":"datum.p=='D13'"}],"mark":{"type":"text","align":"left","baseline":"alphabetic","font":"Liberation Serif","fontSize":16,"color":"#111"},"encoding":{"text":{"field":"s"},"x":{"datum":2015,"type":"quantitative","scale":{"domain":[1450,2100],"nice":false,"zero":false},"axis":null},"y":{"datum":0.2183,"type":"quantitative","scale":{"domain":[0,0.3],"nice":false},"axis":null}}}
 ]},
 {"width":233,"height":169,"resolve":{"axis":{"x":"independent","y":"independent"}},"layer":[
  {"data":{"name":"pts"},"transform":[{"filter":"datum.p=='D15'"}],"mark":{"type":"errorbar","ticks":false,"clip":true,"color":"black","thickness":1.3},"encoding":{"x":{"field":"W","type":"quantitative","scale":{"domain":[1450,2100],"nice":false,"zero":false},"axis":null},"y":{"field":"v","type":"quantitative","scale":{"domain":[0,0.6],"nice":false},"axis":null},"yError":{"field":"e"}}},
  {"data":{"name":"pts"},"transform":[{"filter":"datum.p=='D15'"}],"mark":{"type":"point","filled":true,"size":12,"color":"black","opacity":1},"encoding":{"x":{"field":"W","type":"quantitative","scale":{"domain":[1450,2100],"nice":false,"zero":false},"axis":{"orient":"bottom","values":[1500,1600,1700,1800,1900,2000,2100],"format":"d","labelExpr":"indexof([1500,1800,2100],datum.value)>=0?datum.label:''","title":"W (MeV)"}},"y":{"field":"v","type":"quantitative","scale":{"domain":[0,0.6],"nice":false},"axis":{"orient":"left","values":[0,0.2,0.4,0.6],"format":"~g","labelExpr":"indexof([0,0.4],datum.value)>=0?datum.label:''","title":null}}}},
  {"data":{"name":"cur"},"transform":[{"filter":"datum.p=='D15'&&datum.s=='A'"}],"mark":{"type":"line","color":"#ff2222","strokeWidth":1.6,"interpolate":"monotone"},"encoding":{"x":{"field":"W","type":"quantitative","scale":{"domain":[1450,2100],"nice":false,"zero":false},"axis":{"orient":"top","values":[1500,1600,1700,1800,1900,2000,2100],"labels":false,"title":null}},"y":{"field":"v","type":"quantitative","scale":{"domain":[0,0.6],"nice":false},"axis":{"orient":"right","values":[0,0.2,0.4,0.6],"labels":false,"title":null}}}},
  {"data":{"name":"cur"},"transform":[{"filter":"datum.p=='D15'&&datum.s=='B'"}],"mark":{"type":"line","color":"#2030ff","strokeWidth":1.6,"strokeDash":[7,4],"interpolate":"monotone"},"encoding":{"x":{"field":"W","type":"quantitative","scale":{"domain":[1450,2100],"nice":false,"zero":false},"axis":null},"y":{"field":"v","type":"quantitative","scale":{"domain":[0,0.6],"nice":false},"axis":null}}},
  {"data":{"name":"lab"},"transform":[{"filter":"datum.p=='D15'"}],"mark":{"type":"text","align":"right","baseline":"alphabetic","font":"Liberation Serif","fontSize":22,"color":"#111"},"encoding":{"text":{"field":"m"},"x":{"datum":2016,"type":"quantitative","scale":{"domain":[1450,2100],"nice":false,"zero":false},"axis":null},"y":{"datum":0.4899,"type":"quantitative","scale":{"domain":[0,0.6],"nice":false},"axis":null}}},
  {"data":{"name":"lab"},"transform":[{"filter":"datum.p=='D15'"}],"mark":{"type":"text","align":"left","baseline":"alphabetic","font":"Liberation Serif","fontSize":16,"color":"#111"},"encoding":{"text":{"field":"s"},"x":{"datum":2018,"type":"quantitative","scale":{"domain":[1450,2100],"nice":false,"zero":false},"axis":null},"y":{"datum":0.458,"type":"quantitative","scale":{"domain":[0,0.6],"nice":false},"axis":null}}}
 ]},
 {"width":233,"height":169,"resolve":{"axis":{"x":"independent","y":"independent"}},"layer":[
  {"data":{"name":"pts"},"transform":[{"filter":"datum.p=='F15'"}],"mark":{"type":"errorbar","ticks":false,"clip":true,"color":"black","thickness":1.3},"encoding":{"x":{"field":"W","type":"quantitative","scale":{"domain":[1450,2100],"nice":false,"zero":false},"axis":null},"y":{"field":"v","type":"quantitative","scale":{"domain":[0,0.3],"nice":false},"axis":null},"yError":{"field":"e"}}},
  {"data":{"name":"pts"},"transform":[{"filter":"datum.p=='F15'"}],"mark":{"type":"point","filled":true,"size":12,"color":"black","opacity":1},"encoding":{"x":{"field":"W","type":"quantitative","scale":{"domain":[1450,2100],"nice":false,"zero":false},"axis":{"orient":"bottom","values":[1500,1600,1700,1800,1900,2000,2100],"format":"d","labelExpr":"indexof([1500,1800,2100],datum.value)>=0?datum.label:''","title":"W (MeV)"}},"y":{"field":"v","type":"quantitative","scale":{"domain":[0,0.3],"nice":false},"axis":{"orient":"left","values":[0,0.1,0.2,0.3],"format":"~g","labelExpr":"indexof([0,0.2],datum.value)>=0?datum.label:''","title":null}}}},
  {"data":{"name":"cur"},"transform":[{"filter":"datum.p=='F15'&&datum.s=='A'"}],"mark":{"type":"line","color":"#ff2222","strokeWidth":1.6,"interpolate":"monotone"},"encoding":{"x":{"field":"W","type":"quantitative","scale":{"domain":[1450,2100],"nice":false,"zero":false},"axis":{"orient":"top","values":[1500,1600,1700,1800,1900,2000,2100],"labels":false,"title":null}},"y":{"field":"v","type":"quantitative","scale":{"domain":[0,0.3],"nice":false},"axis":{"orient":"right","values":[0,0.1,0.2,0.3],"labels":false,"title":null}}}},
  {"data":{"name":"cur"},"transform":[{"filter":"datum.p=='F15'&&datum.s=='B'"}],"mark":{"type":"line","color":"#2030ff","strokeWidth":1.6,"strokeDash":[7,4],"interpolate":"monotone"},"encoding":{"x":{"field":"W","type":"quantitative","scale":{"domain":[1450,2100],"nice":false,"zero":false},"axis":null},"y":{"field":"v","type":"quantitative","scale":{"domain":[0,0.3],"nice":false},"axis":null}}},
  {"data":{"name":"lab"},"transform":[{"filter":"datum.p=='F15'"}],"mark":{"type":"text","align":"right","baseline":"alphabetic","font":"Liberation Serif","fontSize":22,"color":"#111"},"encoding":{"text":{"field":"m"},"x":{"datum":2002,"type":"quantitative","scale":{"domain":[1450,2100],"nice":false,"zero":false},"axis":null},"y":{"datum":0.2467,"type":"quantitative","scale":{"domain":[0,0.3],"nice":false},"axis":null}}},
  {"data":{"name":"lab"},"transform":[{"filter":"datum.p=='F15'"}],"mark":{"type":"text","align":"left","baseline":"alphabetic","font":"Liberation Serif","fontSize":16,"color":"#111"},"encoding":{"text":{"field":"s"},"x":{"datum":2004,"type":"quantitative","scale":{"domain":[1450,2100],"nice":false,"zero":false},"axis":null},"y":{"datum":0.2308,"type":"quantitative","scale":{"domain":[0,0.3],"nice":false},"axis":null}}},
  {"data":{"name":"ell"},"mark":{"type":"line","clip":false,"interpolate":"cardinal","color":"#000000","opacity":0.16,"strokeWidth":9,"strokeJoin":"round","strokeDash":[52,19],"xOffset":3,"yOffset":5},"encoding":{"x":{"field":"ex","type":"quantitative","scale":{"domain":[1450,2100],"nice":false,"zero":false},"axis":null},"y":{"field":"ey","type":"quantitative","scale":{"domain":[0,0.3],"nice":false},"axis":null},"detail":{"field":"g"},"order":{"field":"i","type":"quantitative"}}},
  {"data":{"name":"ell"},"mark":{"type":"line","clip":false,"interpolate":"cardinal","color":"#119a11","strokeWidth":7,"strokeJoin":"round","strokeDash":[52,19]},"encoding":{"x":{"field":"ex","type":"quantitative","scale":{"domain":[1450,2100],"nice":false,"zero":false},"axis":null},"y":{"field":"ey","type":"quantitative","scale":{"domain":[0,0.3],"nice":false},"axis":null},"detail":{"field":"g"},"order":{"field":"i","type":"quantitative"}}}
 ]},
 {"width":233,"height":169,"resolve":{"axis":{"x":"independent","y":"independent"}},"layer":[
  {"data":{"name":"pts"},"transform":[{"filter":"datum.p=='F17'"}],"mark":{"type":"errorbar","ticks":false,"clip":true,"color":"black","thickness":1.3},"encoding":{"x":{"field":"W","type":"quantitative","scale":{"domain":[1450,2100],"nice":false,"zero":false},"axis":null},"y":{"field":"v","type":"quantitative","scale":{"domain":[0,0.45],"nice":false},"axis":null},"yError":{"field":"e"}}},
  {"data":{"name":"pts"},"transform":[{"filter":"datum.p=='F17'"}],"mark":{"type":"point","filled":true,"size":12,"color":"black","opacity":1},"encoding":{"x":{"field":"W","type":"quantitative","scale":{"domain":[1450,2100],"nice":false,"zero":false},"axis":{"orient":"bottom","values":[1500,1600,1700,1800,1900,2000,2100],"format":"d","labelExpr":"indexof([1500,1800,2100],datum.value)>=0?datum.label:''","title":"W (MeV)"}},"y":{"field":"v","type":"quantitative","scale":{"domain":[0,0.45],"nice":false},"axis":{"orient":"left","values":[0,0.15,0.3,0.45],"format":"~g","labelExpr":"indexof([0,0.3],datum.value)>=0?datum.label:''","title":"Im ( F )"}}}},
  {"data":{"name":"cur"},"transform":[{"filter":"datum.p=='F17'&&datum.s=='A'"}],"mark":{"type":"line","color":"#ff2222","strokeWidth":1.6,"interpolate":"monotone"},"encoding":{"x":{"field":"W","type":"quantitative","scale":{"domain":[1450,2100],"nice":false,"zero":false},"axis":{"orient":"top","values":[1500,1600,1700,1800,1900,2000,2100],"labels":false,"title":null}},"y":{"field":"v","type":"quantitative","scale":{"domain":[0,0.45],"nice":false},"axis":{"orient":"right","values":[0,0.15,0.3,0.45],"labels":false,"title":null}}}},
  {"data":{"name":"cur"},"transform":[{"filter":"datum.p=='F17'&&datum.s=='B'"}],"mark":{"type":"line","color":"#2030ff","strokeWidth":1.6,"strokeDash":[7,4],"interpolate":"monotone"},"encoding":{"x":{"field":"W","type":"quantitative","scale":{"domain":[1450,2100],"nice":false,"zero":false},"axis":null},"y":{"field":"v","type":"quantitative","scale":{"domain":[0,0.45],"nice":false},"axis":null}}},
  {"data":{"name":"lab"},"transform":[{"filter":"datum.p=='F17'"}],"mark":{"type":"text","align":"right","baseline":"alphabetic","font":"Liberation Serif","fontSize":22,"color":"#111"},"encoding":{"text":{"field":"m"},"x":{"datum":2000,"type":"quantitative","scale":{"domain":[1450,2100],"nice":false,"zero":false},"axis":null},"y":{"datum":0.3541,"type":"quantitative","scale":{"domain":[0,0.45],"nice":false},"axis":null}}},
  {"data":{"name":"lab"},"transform":[{"filter":"datum.p=='F17'"}],"mark":{"type":"text","align":"left","baseline":"alphabetic","font":"Liberation Serif","fontSize":16,"color":"#111"},"encoding":{"text":{"field":"s"},"x":{"datum":2002,"type":"quantitative","scale":{"domain":[1450,2100],"nice":false,"zero":false},"axis":null},"y":{"datum":0.3302,"type":"quantitative","scale":{"domain":[0,0.45],"nice":false},"axis":null}}}
 ]}
]
}
